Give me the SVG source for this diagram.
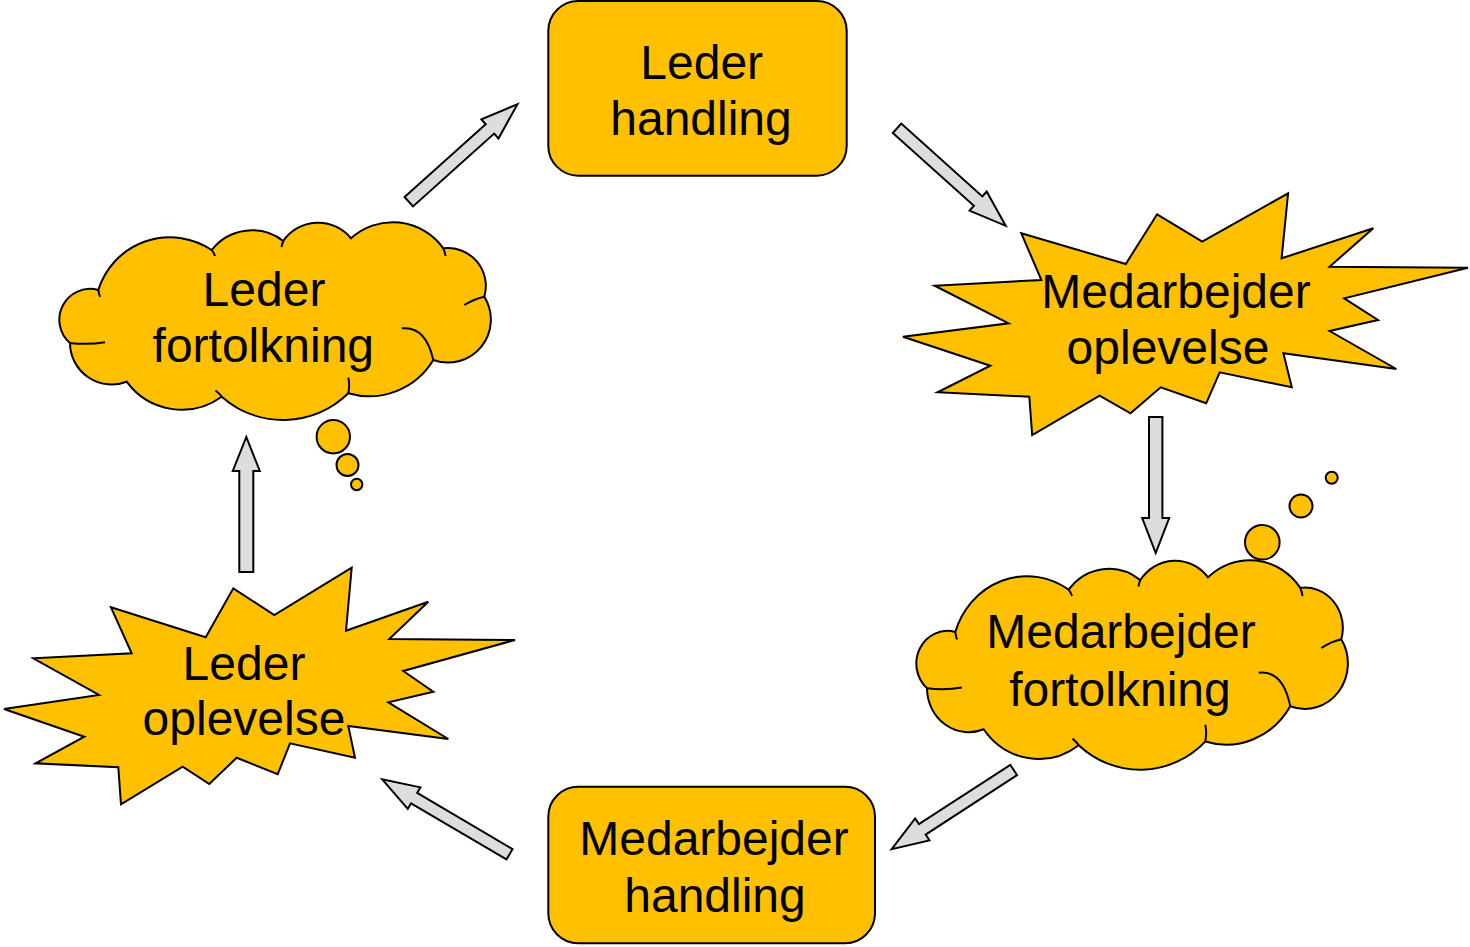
<svg xmlns="http://www.w3.org/2000/svg" width="1470" height="947" viewBox="0 0 1470 947">
<defs>
<style>
.shape{fill:#FFC000;stroke:#000;stroke-width:2;stroke-linejoin:miter}
.crease{fill:none;stroke:#000;stroke-width:2}
.arr{fill:#DDDDDD;stroke:#000;stroke-width:2;stroke-linejoin:miter}
.lbl{font-family:"Liberation Sans",Arial,sans-serif;font-size:48px;fill:#000;text-anchor:middle}
</style>
<g id="cloudShape">
<path class="shape" vector-effect="non-scaling-stroke" d="M98.3,290 A75,75 0 0 1 211.7,250 A51,51 0 0 1 283.3,241 A42.3,42.3 0 0 1 351,238.3 A62,62 0 0 1 443.3,248.3 A38,38 0 0 1 484.3,296.7 A43,43 0 0 1 433.3,360 A75,75 0 0 1 348.3,393.3 A93,93 0 0 1 221.7,396.7 A68,68 0 0 1 126.7,381.7 A41.7,41.7 0 0 1 70,343 A30.8,30.8 0 0 1 98.3,290 Z"/>
<path class="crease" vector-effect="non-scaling-stroke" d="M70,343 Q88,345 105,342.3 M484.3,296.7 Q474,299 464.3,305 M433.3,360 Q425.9,325.8 401.7,328.3 M348.3,393.3 Q350,385 348.3,377.5 M221.7,396.7 Q219,393 215.5,390.5 M211.7,250 Q214,253 215,256 M443.3,248.3 Q445,252 445.5,256 M283.3,241 Q282,244 281.5,247 M98.3,290 Q99,294 100,297"/>
</g>
</defs>

<g id="connectors">
<polygon class="arr" transform="translate(246.3,572) rotate(-90)" points="0,-7 101,-7 101,-13.5 135,0 101,13.5 101,7 0,7"/>
<polygon class="arr" transform="translate(408.8,201.7) rotate(-41.9)" points="0,-6.3 109,-6.3 109,-12.8 146,0 109,12.8 109,6.3 0,6.3"/>
<polygon class="arr" transform="translate(897,128.3) rotate(41.9)" points="0,-6.3 109,-6.3 109,-12.8 146,0 109,12.8 109,6.3 0,6.3"/>
<polygon class="arr" transform="translate(1155.7,417) rotate(90)" points="0,-6.7 101,-6.7 101,-13.5 136,0 101,13.5 101,6.7 0,6.7"/>
<polygon class="arr" transform="translate(1013.7,770) rotate(147)" points="0,-6.2 109,-6.2 109,-13.1 145.5,0 109,13.1 109,6.2 0,6.2"/>
<polygon class="arr" transform="translate(509.5,854.3) rotate(210.5)" points="0,-6 110.7,-6 110.7,-12.5 147.7,0 110.7,12.5 110.7,6 0,6"/>
</g>

<g id="leder-handling">
<rect class="shape" x="548.3" y="1" width="298.4" height="174.7" rx="30" ry="30"/>
<text class="lbl" x="701.7" y="79">Leder</text>
<text class="lbl" x="701" y="135">handling</text>
</g>

<g id="medarbejder-oplevelse">
<polygon class="shape" points="1021.3,233.3 1125.8,264 1157.1,214.3 1202.2,241.7 1288.1,193.3 1281.6,258.3 1373.3,228.3 1329.6,266.7 1468,267.7 1344.2,298.3 1378,320 1329.6,331 1396.3,369 1283.4,353.3 1291.8,387.3 1219.7,372.3 1206.2,403.3 1160.7,387.3 1130.5,413.3 1099.6,395.7 1032.2,435 1029.3,396.7 937.6,392.3 990.4,365.7 903,336.7 1008.6,323.3 934.7,285.7 1041.4,280"/>
<text class="lbl" x="1176" y="307.5">Medarbejder</text>
<text class="lbl" x="1168" y="364">oplevelse</text>
</g>

<g id="medarbejder-fortolkning">
<use href="#cloudShape" transform="translate(857,560) scale(1,1.06) translate(0,-222)"/>
<circle class="shape" cx="1262.3" cy="542.3" r="17.3"/>
<circle class="shape" cx="1301" cy="506" r="11.5"/>
<circle class="shape" cx="1331.7" cy="477.7" r="6"/>
<text class="lbl" x="1121" y="648">Medarbejder</text>
<text class="lbl" x="1120" y="706">fortolkning</text>
</g>

<g id="medarbejder-handling">
<rect class="shape" x="548.3" y="786.7" width="326.7" height="156.6" rx="30" ry="30"/>
<text class="lbl" x="714" y="855">Medarbejder</text>
<text class="lbl" x="715" y="911.7">handling</text>
</g>

<g id="leder-oplevelse">
<polygon class="shape" points="111,607.3 205.7,637.3 233.3,588.3 274.3,615 351.7,567.7 346,630.7 428.3,601.7 389.3,639 515,640 403.3,671 433.3,691.7 388.3,702.3 448.3,739 348.3,726 355,757.7 290,743.3 277.7,774.3 236.7,757.7 209.3,784 182.7,766.7 121,804.3 118.3,767.3 35.7,763.3 84.3,736.7 4,709 99,695 33.3,658.3 131.7,653.3"/>
<text class="lbl" x="244" y="680">Leder</text>
<text class="lbl" x="244" y="735">oplevelse</text>
</g>

<g id="leder-fortolkning">
<use href="#cloudShape"/>
<circle class="shape" cx="333.3" cy="436.7" r="16.7"/>
<circle class="shape" cx="347.5" cy="465" r="11"/>
<circle class="shape" cx="356.7" cy="484.5" r="5.7"/>
<text class="lbl" x="264" y="305.7">Leder</text>
<text class="lbl" x="263.3" y="362">fortolkning</text>
</g>
</svg>
